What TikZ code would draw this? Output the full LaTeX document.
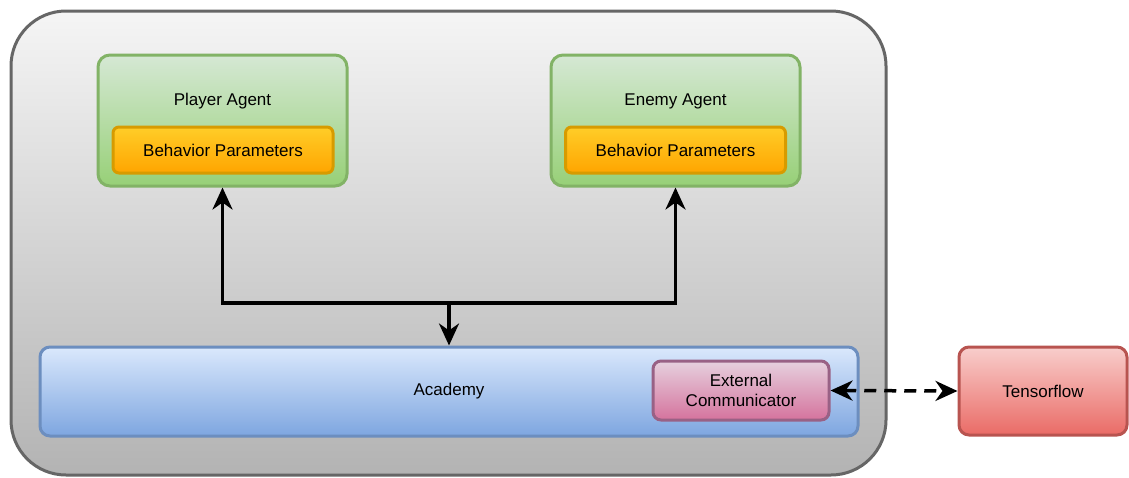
\documentclass[tikz,border=0pt]{standalone}
\usepackage{fontspec}
\setmainfont{Liberation Sans}
\usetikzlibrary{arrows.meta}
\definecolor{grayF}{HTML}{F5F5F5}\definecolor{grayG}{HTML}{B3B3B3}\definecolor{grayS}{HTML}{666666}
\definecolor{grnF}{HTML}{D5E8D4}\definecolor{grnG}{HTML}{97D077}\definecolor{grnS}{HTML}{82B366}
\definecolor{orgF}{HTML}{FFCD28}\definecolor{orgG}{HTML}{FFA500}\definecolor{orgS}{HTML}{D79B00}
\definecolor{bluF}{HTML}{DAE8FC}\definecolor{bluG}{HTML}{7EA6E0}\definecolor{bluS}{HTML}{6C8EBF}
\definecolor{pnkF}{HTML}{E6D0DE}\definecolor{pnkG}{HTML}{D5739D}\definecolor{pnkS}{HTML}{996185}
\definecolor{redF}{HTML}{F8CECC}\definecolor{redG}{HTML}{EA6B66}\definecolor{redS}{HTML}{B85450}
\tikzset{
  box/.style={rectangle, rounded corners=12pt, line width=3pt, inner sep=0pt, font=\fontsize{17}{20}\selectfont, align=center},
  outerbox/.style={box, rounded corners=55pt, draw=grayS, top color=grayF, bottom color=grayG},
  agentbox/.style={box, draw=grnS, top color=grnF, bottom color=grnG, minimum width=249pt, minimum height=131pt},
  parambox/.style={box, rounded corners=6pt, draw=orgS, top color=orgF, bottom color=orgG, minimum width=220pt, minimum height=46pt},
  acadbox/.style={box, rounded corners=10pt, draw=bluS, top color=bluF, bottom color=bluG},
  commbox/.style={box, rounded corners=8pt, draw=pnkS, top color=pnkF, bottom color=pnkG},
  tfbox/.style={box, rounded corners=10pt, draw=redS, top color=redF, bottom color=redG},
  lbl/.style={font=\fontsize{17}{20}\selectfont, inner sep=0pt},
  tip/.tip={Stealth[length=22pt,width=20pt,inset=7pt]},
  conn/.style={line width=3.5pt, tip-tip},
  connone/.style={line width=3.5pt, -tip},
}
\begin{document}
\begin{tikzpicture}[x=1pt,y=-1pt]
\useasboundingbox (0,0) rectangle (1129,477);
\node[outerbox, minimum width=875pt, minimum height=464pt] (outer) at (448.5,243) {};
\node[agentbox] (player) at (222.5,120.5) {};
\node[lbl] (playerlbl) at (222.5,101) {Player Agent};
\node[parambox] (pparam) at (223,150) {Behavior Parameters};
\node[agentbox] (enemy) at (675.5,120.5) {};
\node[lbl] (enemylbl) at (675.5,101) {Enemy Agent};
\node[parambox] (eparam) at (675.5,150) {Behavior Parameters};
\node[acadbox, minimum width=818pt, minimum height=89pt] (acad) at (449,391.5) {};
\node[lbl] (acadlbl) at (449,391.5) {Academy};
\node[commbox, minimum width=176pt, minimum height=59pt] (comm) at (741,390.5) {External\\Communicator};
\node[tfbox, minimum width=168pt, minimum height=88pt] (tf) at (1043,391) {Tensorflow};
\coordinate (j) at (449,303);
\draw[conn] (player.south) |- (j) -| (enemy.south);
\draw[connone] (j) -- (acad.north);
\draw[conn, dash pattern=on 12pt off 8pt] (comm.east) -- (tf.west);
\end{tikzpicture}
\end{document}
